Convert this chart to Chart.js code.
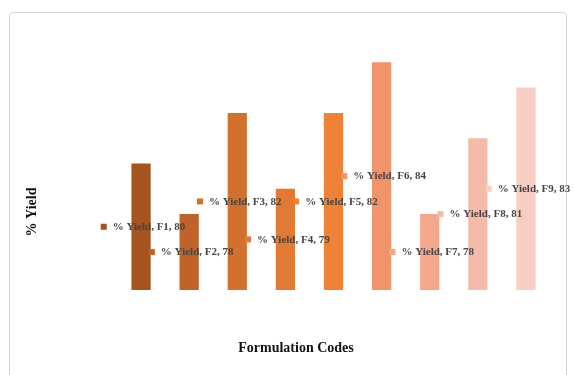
<!DOCTYPE html>
<html>
<head>
<meta charset="utf-8">
<script src="https://cdn.jsdelivr.net/npm/chart.js@4/dist/chart.umd.min.js"></script>
<style>
  html, body { margin: 0; padding: 0; background: #ffffff; }
  #wrap { position: relative; width: 574px; height: 375px; overflow: hidden; }
  #frame { position: absolute; left: 9px; top: 12px; width: 558px; height: 400px;
           border: 1px solid #d6d6d6; border-radius: 4px; box-sizing: border-box; }
  canvas { position: absolute; left: 0; top: 0; }
</style>
</head>
<body>
<div id="wrap">
  <div id="frame"></div>
  <canvas id="c" width="574" height="375"></canvas>
</div>
<script>
// Formulation codes and their yield (%)
const categories = ['F1', 'F2', 'F3', 'F4', 'F5', 'F6', 'F7', 'F8', 'F9'];
const yieldValues = [80, 78, 82, 79, 82, 84, 78, 81, 83];
const seriesName = '% Yield';
const barColors = ['#A5531F', '#C0622A', '#D2702E', '#E27A33', '#EE8236',
                   '#F0946B', '#F3A88C', '#F6BAA9', '#F8CEC3'];

const titleFont = 'bold 14px "Liberation Serif", "Times New Roman", serif';
const labelFont = 'bold 11px "Liberation Serif", "Times New Roman", serif';

// Data labels ("% Yield, Fx, value") with a colour key, centred in each bar,
// plus the two axis titles.
const annotate = {
  id: 'annotate',
  afterDraw(chart) {
    const ctx = chart.ctx;
    const xs = chart.scales.x;
    const ys = chart.scales.y;
    ctx.save();
    ctx.font = labelFont;
    ctx.textBaseline = 'middle';
    yieldValues.forEach((v, i) => {
      const text = seriesName + ', ' + categories[i] + ', ' + v;
      const tw = ctx.measureText(text).width;
      const key = 6, gap = 6;
      const total = key + gap + tw;
      const cx = xs.getPixelForValue(i) + 2;
      const cy = ys.getPixelForValue((ys.min + v) / 2);
      const x0 = cx - total / 2;
      ctx.fillStyle = barColors[i];
      ctx.fillRect(x0, cy - key / 2, key, key);
      ctx.fillStyle = '#454545';
      ctx.textAlign = 'left';
      ctx.fillText(text, x0 + key + gap, cy + 0.5);
    });

    ctx.fillStyle = '#111111';
    ctx.font = titleFont;
    ctx.textAlign = 'center';
    ctx.fillText('Formulation Codes', 296, 348);
    ctx.translate(32, 212);
    ctx.rotate(-Math.PI / 2);
    ctx.fillText('% Yield', 0, 0);
    ctx.restore();
  }
};

new Chart(document.getElementById('c'), {
  type: 'bar',
  data: {
    labels: categories,
    datasets: [{
      label: seriesName,
      data: yieldValues,
      backgroundColor: barColors,
      borderWidth: 0,
      barPercentage: 0.4,
      categoryPercentage: 1.0
    }]
  },
  options: {
    responsive: false,
    animation: false,
    layout: { padding: { left: 117, right: 24, top: 37, bottom: 85 } },
    plugins: { legend: { display: false }, tooltip: { enabled: false } },
    scales: {
      x: { display: false },
      y: { display: false, min: 75, max: 85 }
    }
  },
  plugins: [annotate]
});
</script>
</body>
</html>
